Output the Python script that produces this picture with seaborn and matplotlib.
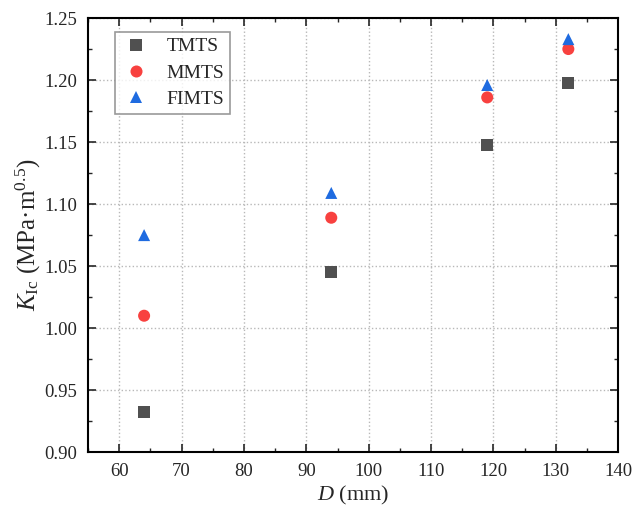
import pandas as pd
import seaborn as sns
import matplotlib
matplotlib.use("Agg")
from matplotlib import pyplot as plt
from matplotlib.ticker import MultipleLocator

# data
diameter = [64, 94, 119, 132]
tmts = [0.932, 1.045, 1.148, 1.198]
mmts = [1.010, 1.089, 1.186, 1.225]
fimts = [1.075, 1.109, 1.196, 1.233]
groups = ["TMTS", "MMTS", "FIMTS"]

df = pd.DataFrame({
    "D": diameter * 3,
    "K": tmts + mmts + fimts,
    "group": [g for g in groups for _ in diameter],
})

sns.set_style("ticks")
plt.rcParams["font.family"] = ["Liberation Serif", "DejaVu Serif"]
plt.rcParams["mathtext.fontset"] = "custom"
plt.rcParams["mathtext.rm"] = "Liberation Serif"
plt.rcParams["mathtext.it"] = "Liberation Serif:italic"

fig = plt.figure(figsize=(6.42, 5.15), dpi=100)
ax = fig.add_axes([0.137, 0.122, 0.826, 0.843])

palette = {"TMTS": "#505050", "MMTS": "#F8413F", "FIMTS": "#1F6BE0"}
markers = {"TMTS": "s", "MMTS": "o", "FIMTS": "^"}
sns.scatterplot(data=df, x="D", y="K", hue="group", style="group",
                palette=palette, markers=markers, s=75, linewidth=0,
                ax=ax, zorder=3)

ax.set_xlim(55, 140)
ax.set_ylim(0.90, 1.25)
ax.xaxis.set_major_locator(MultipleLocator(10))
ax.xaxis.set_minor_locator(MultipleLocator(5))
ax.yaxis.set_major_locator(MultipleLocator(0.05))
ax.yaxis.set_minor_locator(MultipleLocator(0.025))
ax.yaxis.set_major_formatter(plt.FormatStrFormatter("%.2f"))
ax.tick_params(which="both", direction="in", top=True, right=True,
               labeltop=False, labelright=False, labelsize=13.5)
ax.tick_params(which="major", length=6, width=1.2, pad=8)
ax.tick_params(which="minor", length=3, width=1.0)
for s in ax.spines.values():
    s.set_linewidth(1.5)
    s.set_color("black")
ax.grid(True, which="major", linestyle=":", color="#b8b8b8", linewidth=1)

ax.set_xlabel("$D$ (mm)", fontsize=16, labelpad=3)
ax.set_ylabel("$K_{\\mathrm{Ic}}$ (MPa·m$^{0.5}$)", fontsize=18, labelpad=1)

leg = ax.legend(loc="upper left", bbox_to_anchor=(0.051, 0.968),
                borderaxespad=0, fontsize=14,
                frameon=True, fancybox=False, edgecolor="#808080",
                handlelength=1.6, handletextpad=0.75, borderpad=0.3,
                labelspacing=0.45)
leg.get_frame().set_linewidth(1.2)
leg.set_title(None)

plt.savefig("out.png", dpi=100)
